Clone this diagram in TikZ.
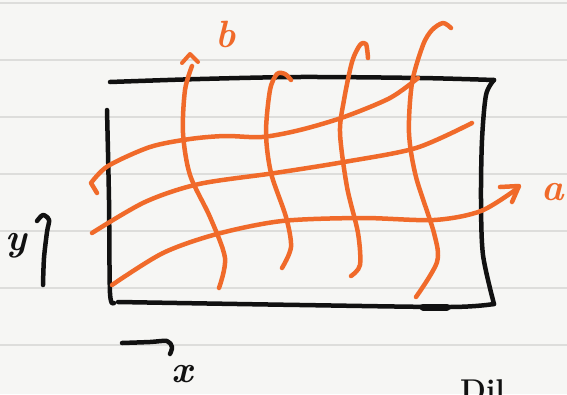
\documentclass[tikz,border=0pt]{standalone}
\usepackage{fontspec}
\usepackage{tikz}
\usetikzlibrary{arrows.meta,positioning}

\definecolor{paper}{HTML}{F6F6F4}
\definecolor{rule}{HTML}{DDDDDB}
\definecolor{pen}{HTML}{111111}
\definecolor{marker}{HTML}{F06A2A}

\begin{document}
\begin{tikzpicture}[x=1pt, y=-1pt,
    ink/.style={draw=pen, line width=4.5pt, line cap=round, line join=round},
    grid/.style={draw=marker, line width=4.5pt, line cap=round, line join=round},
    every node/.style={inner sep=0pt, font=\fontsize{38}{38}\selectfont\bfseries\itshape}]
    % paper and ruled lines
    \fill[paper] (0,0) rectangle (567,394);
    \useasboundingbox (0,0) rectangle (567,394);
    \foreach \ly in {3,60,117,174,231,288,345}
      \draw[rule, line width=1.2pt] (0,\ly) -- (567,\ly);

    % the box
    \draw[ink] plot[smooth] coordinates {(110,82) (200,79) (300,77) (420,78) (494,80)};
    \draw[ink] plot[smooth] coordinates {(494,80) (486,95) (482,140) (481,200) (483,255) (494,304)};
    \draw[ink] plot[smooth] coordinates {(494,304) (450,307) (300,305) (118,302)};
    \draw[ink] plot[smooth] coordinates {(107,110) (109,200) (110,293) (114,303)};
    \draw[pen, line width=7pt, line cap=round] (423,307) -- (447,307);

    % a-lines
    \draw[grid] (97,193) -- (91,183) plot[smooth] coordinates {(91,183) (108,166) (150,147) (190,139) (225,136) (262,137) (300,130) (344,117) (390,98) (418,78)};
    \draw[grid] plot[smooth] coordinates {(92,233) (145,202) (199,184) (275,173) (344,162) (416,148) (472,123)};
    \draw[grid] plot[smooth] coordinates {(112,285) (163,253) (217,234) (282,221) (362,218) (434,220) (481,211) (518,188)};
    \coordinate (atip) at (519,186);
    \draw[grid] (500,187) -- (atip) -- (512,202);
    \node[text=marker] (alab) at (553,192) {a};

    % b-lines
    \draw[grid] plot[smooth] coordinates {(192,66) (185,90) (183,133) (190,175) (210,217) (225,258) (219,288)};
    \coordinate (btip) at (190,54);
    \draw[grid, line width=4pt] (182,63) -- (btip) -- (198,62);
    \draw[grid] plot[smooth] coordinates {(291,80) (285,74) (277,74) (270,90) (266,133) (271,173) (286,217) (291,247) (282,268)};
    \draw[grid] plot[smooth] coordinates {(368,58) (366,44) (360,45) (352,62) (344,100) (340,133) (347,187) (358,233) (360,265) (351,276)};
    \draw[grid] plot[smooth] coordinates {(451,28) (443,23) (432,30) (423,45) (412,83) (409,133) (416,177) (434,233) (437,262) (416,297)};
    \node[text=marker] (blab) at (226,34) {b};

    % axes
    \draw[ink] plot[smooth] coordinates {(37,221) (43,215) (49,220) (47,232) (44,258) (43,285)};
    \node[text=pen] (ylab) at (16,246) {y};
    \draw[ink] plot[smooth] coordinates {(122,343) (150,342) (167,341) (172,347) (170,354)};
    \node[text=pen] (xlab) at (182,374) {x};

    % cut-off writing below
    \node[text=pen, anchor=north west, font=\fontsize{30}{30}\selectfont\bfseries] (more) at (460,379) {Dil};
  \end{tikzpicture}
\end{document}
